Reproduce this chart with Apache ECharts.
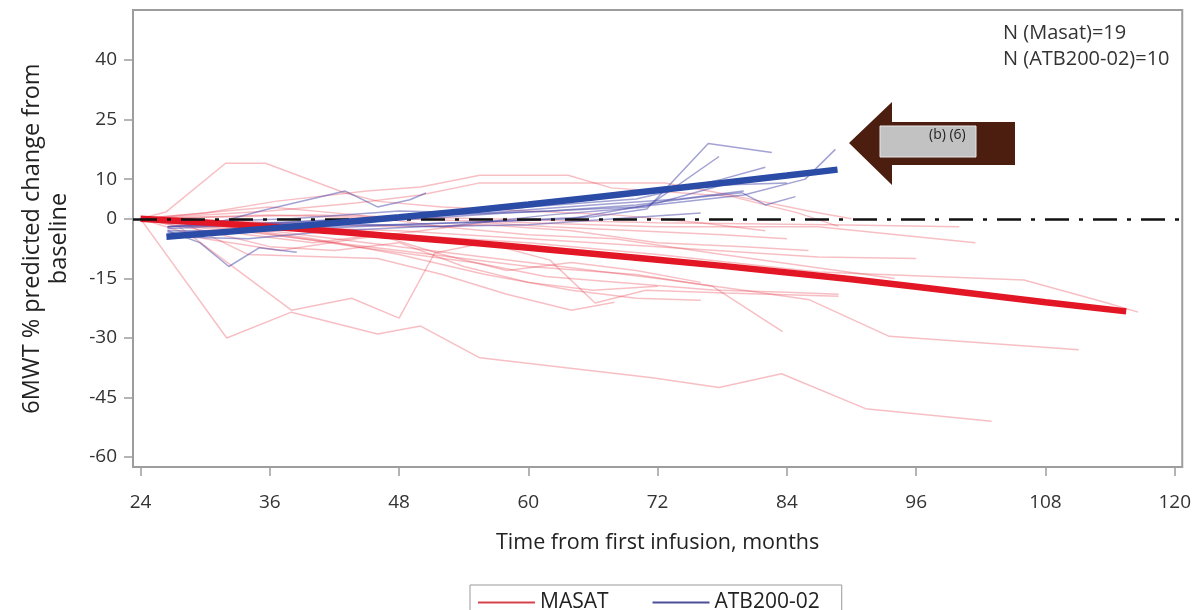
<!DOCTYPE html>
<html>
<head>
<meta charset="utf-8">
<script src="https://cdn.jsdelivr.net/npm/echarts@6/dist/echarts.min.js"></script>
<style>
  html, body { margin: 0; padding: 0; background: #fff; }
  #chart { width: 1194px; height: 610px; }
</style>
</head>
<body>
<div id="chart"></div>
<script>
// x ticks (months) and y ticks (% change)
var xTicks = [24, 36, 48, 60, 72, 84, 96, 108, 120];
var yTicks = [-60, -45, -30, -15, 0, 10, 25, 40];

// individual MASAT subjects [month, % change]
var masatSubjects = [
  [[24,0],[32,-30],[38,-23.5],[46,-29],[50,-27],[55.5,-35],[71.5,-40],[77.7,-42.5],[83.5,-39],[91.3,-47.8],[103,-51]],
  [[24,0],[27.6,-2],[38,-23],[43.6,-20],[48,-25],[51.3,-8.6],[56,-6],[62,-10.4],[66.2,-21.2],[70.9,-18],[78.3,-18.7],[88.8,-19.5]],
  [[24,0],[26.4,1.8],[31.9,14],[35.6,14],[43,6.5],[46.1,4.4],[52,3],[60,2],[68,1],[76,-1],[82,-3]],
  [[24,0],[30,1.5],[36.5,4.4],[45,7],[50,8],[55.5,11],[63.7,11],[67.7,7.8],[78.9,5.6],[85,1.5],[88.8,-1.9]],
  [[24,0],[36,2],[44,4],[50,6],[55.4,9],[72.7,9],[79.5,5.6],[86,2],[90,0]],
  [[24,0],[34,-3],[44,-7],[55.4,-11.2],[61.6,-14.5],[77.1,-17.9],[84,-18.5],[88.8,-19]],
  [[24,0],[36,-4],[48,-8],[60,-12],[70,-14],[77.1,-17],[83.6,-28.4]],
  [[24,0],[36,-3],[48,-7],[60,-11],[72,-15],[80,-18],[86.1,-20.4],[93.5,-29.6],[111.1,-33]],
  [[24,0],[36,1],[48,0],[60,-1],[72,-2],[86.9,-2],[101.5,-6]],
  [[24,0],[36,-2],[48,-3],[60,-5],[72,-7],[86.9,-9.6],[96,-10]],
  [[24,0],[36,-1],[48,-4],[60,-6],[72,-9],[86.9,-13.4],[106,-15.4],[113.5,-21],[116.6,-23.5]],
  [[24,0],[40,1],[56,0],[72,-1],[88,-1.5],[100,-2]],
  [[24,0],[30,-3],[36,-7],[42,-8],[48,-6],[54,-12],[60,-16],[66,-18],[72,-17]],
  [[24,0],[32,-2],[40,-5],[48,-9],[56,-14],[64,-18],[70,-20],[76,-20.5]],
  [[24,0],[36,-1],[48,-2],[56,-1.5],[64,-3],[72,-6],[80,-7],[86,-8]],
  [[24,0],[34,-4],[40,-6],[46,-4],[52,-9],[58,-13],[64,-11],[70,-13],[76,-16]],
  [[24,0],[30,-5],[37,-8],[44,-5],[50,-3],[56,-1],[62,-2],[70,-3],[78,-4],[84,-5]],
  [[24,0],[36,3],[44,1],[52,-2],[60,-4],[68,-5],[78,-9],[86,-12],[94,-15]],
  [[24,0],[28,-1],[34,-9],[40,-9.5],[46,-10],[52,-14],[58,-19],[64,-23],[68,-21]]
];

// individual ATB200-02 subjects
var atbSubjects = [
  [[26.5,-3],[29.5,-6],[32.2,-12],[35,-7.3],[38.5,-8.4]],
  [[26.5,-2],[31,-1],[35.6,2.3],[43,7],[46,3],[49,4.8],[50.5,6.5]],
  [[26.5,-3],[36,-3],[48,-1.5],[58,-0.5],[66,0.5],[71,2.5],[76.7,19],[82.6,16.7]],
  [[26.5,-2],[40,-1],[52,-2],[62,1],[71,3],[77.7,15.7]],
  [[26.5,-4],[44,-1],[58,1.5],[70,3],[80,6],[85.7,10],[88.5,17.5]],
  [[26.5,-2.5],[48,0.5],[62,2],[70,3.5],[76,5.5],[79.8,6.6],[82,3.5],[84.8,5.6]],
  [[26.5,-3.5],[40,-2],[54,-1],[64,0],[72,4],[78,8.5],[84,9]],
  [[26.5,-1],[38,0],[48,2],[56,1.5],[66,3.5],[74,5],[80,7]],
  [[26.5,-4.5],[34,-5],[42,-3],[50,-2],[60,-1.5],[68,0],[76,1.5]],
  [[26.5,-2],[36,-1],[44,0],[52,1],[60,3],[70,5],[78,10],[82,13]]
];

// fitted trends
var masatTrend = [[24,0],[36,-2],[48,-4.5],[60,-7.3],[72,-10.3],[84,-13.5],[96,-17.1],[108,-21],[115.5,-23.3]];
var atbTrend = [[26.4,-4.5],[36,-2.4],[48,0.4],[60,3.6],[72,7.2],[84,10.9],[88.7,12.4]];

var FONT = '"Open Sans", sans-serif';

var series = [];
masatSubjects.forEach(function (d) {
  series.push({
    type: 'line', name: 'MASAT', data: d, showSymbol: false, silent: true, z: 2,
    lineStyle: { color: 'rgba(232,60,75,0.33)', width: 1.5 }
  });
});
atbSubjects.forEach(function (d) {
  series.push({
    type: 'line', name: 'ATB200-02', data: d, showSymbol: false, silent: true, z: 2,
    lineStyle: { color: 'rgba(70,70,170,0.5)', width: 1.5 }
  });
});
series.push({
  type: 'line', name: 'MASAT', data: masatTrend, showSymbol: false, smooth: true, silent: true, z: 4,
  lineStyle: { color: '#e21624', width: 6.5 },
  markLine: {
    silent: true, symbol: ['none', 'none'], label: { show: false },
    lineStyle: { color: '#111', width: 2.5, type: [24, 10, 4, 10] },
    data: [{ yAxis: 0 }]
  }
});
series.push({
  type: 'line', name: 'ATB200-02', data: atbTrend, showSymbol: false, smooth: true, silent: true, z: 5,
  lineStyle: { color: '#2a4ba6', width: 6.5 }
});

var chart = echarts.init(document.getElementById('chart'));
chart.setOption({
  animation: false,
  backgroundColor: '#fff',
  grid: { left: 133, right: 11, top: 10, bottom: 143, show: true, borderColor: '#9d9d9d', borderWidth: 2 },
  xAxis: {
    type: 'value', min: 23.3, max: 120.7,
    name: 'Time from first infusion, months', nameLocation: 'middle', nameGap: 65,
    nameTextStyle: { fontFamily: FONT, fontSize: 21.5, color: '#222' },
    axisLine: { show: false, onZero: false },
    axisTick: { show: true, length: 9, customValues: xTicks, lineStyle: { color: '#9d9d9d', width: 1.5 } },
    axisLabel: { customValues: xTicks, margin: 26, fontFamily: FONT, fontSize: 19, color: '#333' },
    splitLine: { show: false }
  },
  yAxis: {
    type: 'value', min: -62.5, max: 52.6,
    name: '6MWT % predicted change from\nbaseline', nameLocation: 'middle', nameGap: 60,
    nameTextStyle: { fontFamily: FONT, fontSize: 23.5, color: '#222', lineHeight: 27 },
    axisLine: { show: false, onZero: false },
    axisTick: { show: true, length: 9, customValues: yTicks, lineStyle: { color: '#9d9d9d', width: 1.5 } },
    axisLabel: { customValues: yTicks, margin: 16, fontFamily: FONT, fontSize: 19, color: '#333' },
    splitLine: { show: false }
  },
  legend: {
    left: 470, top: 585, selectedMode: false,
    icon: 'rect', itemWidth: 57, itemHeight: 2, itemGap: 44,
    borderColor: '#999', borderWidth: 1, padding: [7, 22, 7, 8],
    textStyle: { fontFamily: FONT, fontSize: 21, color: '#222' },
    data: [
      { name: 'MASAT', itemStyle: { color: '#d6424c' } },
      { name: 'ATB200-02', itemStyle: { color: '#4a4e98' } }
    ]
  },
  graphic: [
    { type: 'text', left: 1003, top: 23, style: { text: 'N (Masat)=19', font: '20px ' + FONT, fill: '#333' } },
    { type: 'text', left: 1003, top: 49, style: { text: 'N (ATB200-02)=10', font: '20px ' + FONT, fill: '#333' } },
    { type: 'polygon', shape: { points: [[849,143],[892,102],[892,122],[1015,122],[1015,165],[892,165],[892,185]] },
      style: { fill: '#4b1e10' } },
    { type: 'rect', shape: { x: 880, y: 126, width: 96, height: 31 }, style: { fill: '#c2c2c2', stroke: '#e8e8e8', lineWidth: 1 } },
    { type: 'text', left: 929, top: 128, style: { text: '(b) (6)', font: '14px ' + FONT, fill: '#222' } }
  ],
  series: series
});
</script>
</body>
</html>
